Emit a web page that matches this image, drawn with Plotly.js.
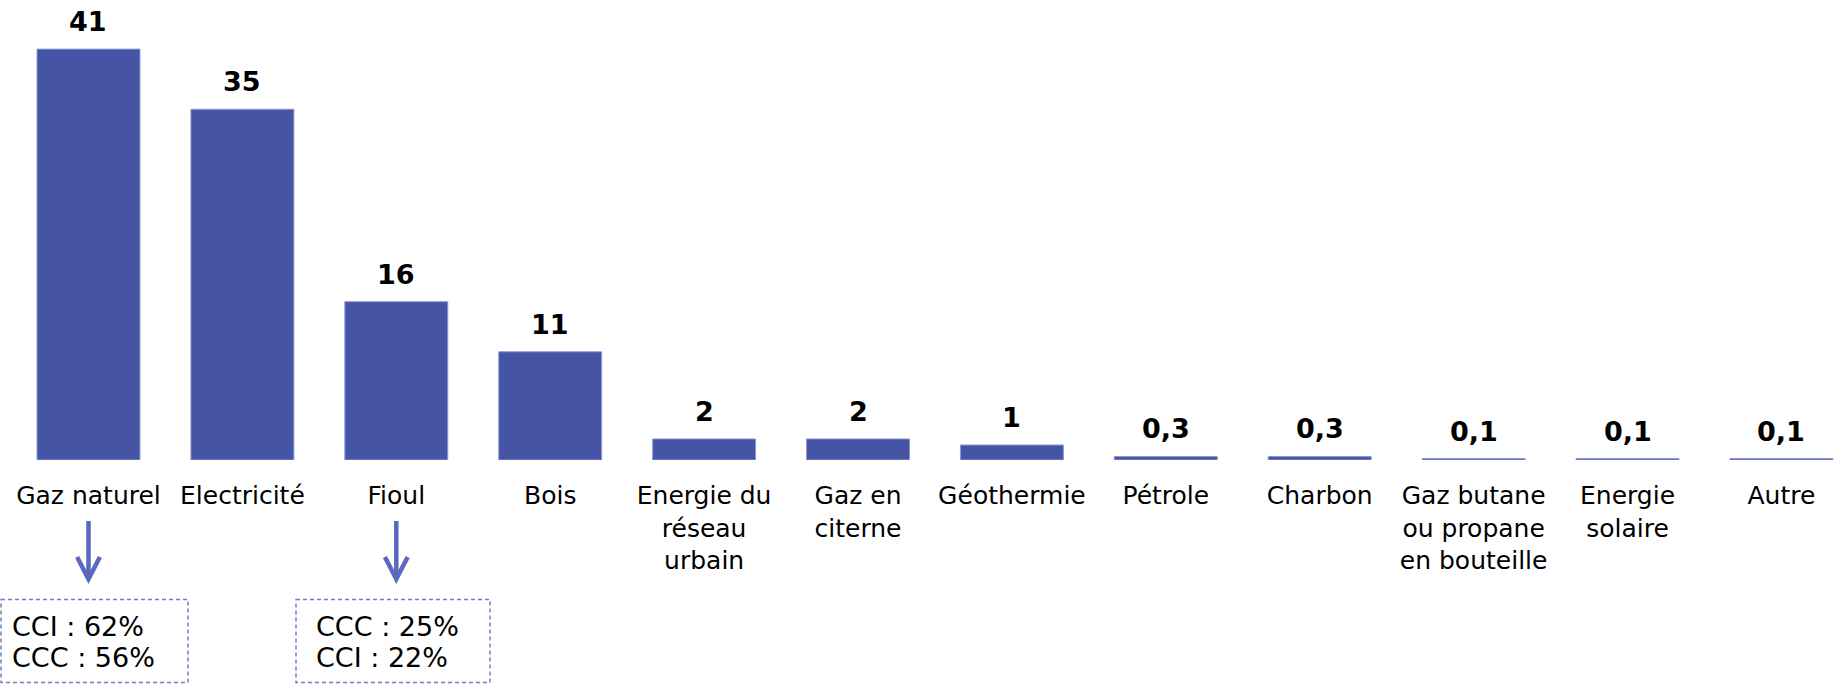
<!DOCTYPE html>
<html>
<head>
<meta charset="utf-8">
<script src="https://cdn.plot.ly/plotly-3.0.1.min.js"></script>
<style>html,body{margin:0;padding:0;background:#fff;}#chart{width:1839px;height:684px;}</style>
</head>
<body>
<div id="chart"></div>
<script>
// ---- data ----
const categories = ["Gaz naturel","Electricité","Fioul","Bois","Energie du<br>réseau<br>urbain","Gaz en<br>citerne","Géothermie","Pétrole","Charbon","Gaz butane<br>ou propane<br>en bouteille","Energie<br>solaire","Autre"];
const values = [41, 35, 15.8, 10.8, 2.1, 2.1, 1.5, 0.35, 0.35, 0.15, 0.15, 0.15];
const valueLabels = ["41","35","16","11","2","2","1","0,3","0,3","0,1","0,1","0,1"];
const gazBoxLines = ["CCI : 62%", "CCC : 56%"];
const fioulBoxLines = ["CCC : 25%", "CCI : 22%"];

// ---- layout helpers (pixel -> paper) ----
const W = 1839, H = 684, PLOT_H = 460;
const px = x => x / W;
const py = y => (PLOT_H - y) / PLOT_H;
const FONT = "DejaVu Sans, Verdana, sans-serif";
const barColor = "#4654a5";
const arrowColor = "#5a69bd";
const boxColor = "#6f7ec6";

const annotations = categories.map((c, i) => ({
  x: c, y: values[i], xref: "x", yref: "y",
  text: "<b>" + valueLabels[i] + "</b>", showarrow: false,
  yanchor: "bottom", yshift: 10,
  font: {family: FONT, size: 27, color: "#000"}
}));

function boxText(lines, xLeft, baselines) {
  lines.forEach((t, k) => {
    annotations.push({
      x: px(xLeft), y: py(baselines[k] + 7), xref: "paper", yref: "paper",
      text: t, showarrow: false, xanchor: "left", yanchor: "bottom",
      font: {family: FONT, size: 27, color: "#000"}
    });
  });
}
boxText(gazBoxLines, 10, [637, 668]);
boxText(fioulBoxLines, 314, [637, 668]);

const shapes = [];
function arrowAt(cat) {
  const i = categories.indexOf(cat);
  const dx = 0.074;
  shapes.push({type: "line", xref: "x", yref: "paper", x0: i, x1: i, y0: py(521), y1: py(578),
    line: {color: arrowColor, width: 4.5}});
  shapes.push({type: "path", xref: "x", yref: "paper",
    path: `M ${i - dx} ${py(557)} L ${i} ${py(579)} L ${i + dx} ${py(557)}`,
    line: {color: arrowColor, width: 4.5}});
}
arrowAt("Gaz naturel");
arrowAt("Fioul");

function dashedBox(x0, x1, y0, y1) {
  shapes.push({type: "rect", xref: "paper", yref: "paper",
    x0: px(x0), x1: px(x1), y0: py(y0), y1: py(y1),
    line: {color: boxColor, width: 1.5, dash: "4px,3px"}, fillcolor: "rgba(0,0,0,0)"});
}
dashedBox(1, 188, 599.5, 682.5);
dashedBox(296, 490, 599.5, 682.5);

const trace = {
  type: "bar", x: categories, y: values,
  marker: {color: barColor, line: {color: "#8e9ad6", width: 1}},
  hoverinfo: "skip"
};

const layout = {
  width: W, height: H,
  margin: {l: 0, r: 0, t: 0, b: H - PLOT_H, pad: 0},
  paper_bgcolor: "#fff", plot_bgcolor: "#fff",
  showlegend: false,
  bargap: 0.331,
  xaxis: {
    type: "category", range: [-0.575, 11.374],
    showgrid: false, zeroline: false, showline: false, ticks: "",
    ticklabelstandoff: 18, tickangle: 0,
    tickfont: {family: FONT, size: 25, color: "#000"}
  },
  yaxis: {visible: false, range: [0, 45.9], showgrid: false, zeroline: false},
  annotations: annotations,
  shapes: shapes
};

Plotly.newPlot("chart", [trace], layout, {displayModeBar: false, staticPlot: true});
</script>
</body>
</html>
